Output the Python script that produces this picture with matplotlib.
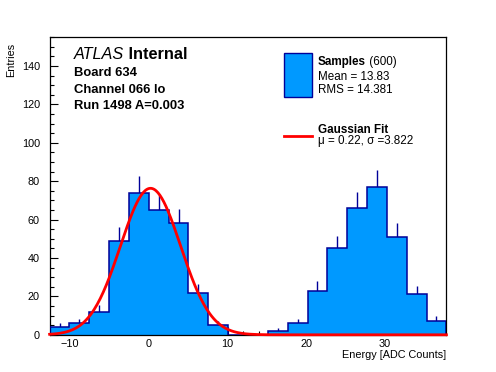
import matplotlib
matplotlib.use("Agg")
import matplotlib.pyplot as plt
import numpy as np
from matplotlib.patches import Rectangle
from matplotlib.lines import Line2D

# histogram (20 bins)
x_min, x_max = -12.6, 37.8
counts = [4, 6, 12, 49, 74, 65, 58, 22, 5, 0, 0, 2, 6, 23, 45, 66, 77, 51, 21, 7]

# gaussian fit
fit_mu = 0.22
fit_sigma = 3.822
fit_amp = 76.3

# stats box
n_samples = 600
mean_val = 13.83
rms_val = 14.381

info_lines = ["Board 634", "Channel 066 lo", "Run 1498 A=0.003"]

fill_col = "#0099ff"
line_col = "#000099"
font = "Liberation Sans"

W, H = 496, 372
plt.rcParams['font.family'] = [font, 'DejaVu Sans']

fig = plt.figure(figsize=(W / 100, H / 100), dpi=100)
ax = fig.add_axes([0.1, 0.1, 0.8, 0.8])


def fx(px):
    return px / W


def fy(py):
    return 1 - py / H


counts = np.array(counts, dtype=float)
edges = np.linspace(x_min, x_max, len(counts) + 1)
centers = 0.5 * (edges[:-1] + edges[1:])

# error bars sit behind the filled histogram, so only the upper half shows
nz = counts > 0
ax.vlines(centers[nz], counts[nz] - np.sqrt(counts[nz]), counts[nz] + np.sqrt(counts[nz]),
          color=line_col, lw=1, zorder=1)
ax.stairs(counts, edges, fill=True, color=fill_col, zorder=2)
ax.stairs(counts, edges, color=line_col, lw=1.1, zorder=3)

xs = np.linspace(x_min, x_max, 400)
ax.plot(xs, fit_amp * np.exp(-0.5 * ((xs - fit_mu) / fit_sigma) ** 2),
        color="red", lw=2, zorder=4, clip_on=False)

ax.set_xlim(x_min, x_max)
ax.set_ylim(0, 155)
ax.set_xticks([-10, 0, 10, 20, 30])
ax.set_xticks(np.arange(-12, 38, 2), minor=True)
ax.set_yticks(np.arange(0, 141, 20))
ax.set_yticks(np.arange(0, 156, 5), minor=True)
ax.tick_params(which='both', direction='in', top=False, right=False, labelsize=7.8)
ax.tick_params(which='major', length=5.8, width=0.8)
ax.tick_params(which='minor', length=2.9, width=0.8)
ax.tick_params(axis='y', pad=7)
ax.tick_params(axis='x', pad=3)
for s in ax.spines.values():
    s.set_linewidth(0.9)

fig.text(fx(446), fy(358), "Energy [ADC Counts]", ha='right', va='baseline', size=7.8)
fig.text(fx(16), fy(43), "Entries", rotation=90, ha='right', va='top', size=7.8)

# ATLAS label
t = fig.text(fx(74), fy(59), "ATLAS", style='italic', size=11.7, va='baseline')
ax.annotate(" Internal", xy=(1, 0), xycoords=t, va='bottom', ha='left',
            size=11.7, weight='bold')
for i, line in enumerate(info_lines):
    fig.text(fx(74), fy(76 + 16.7 * i), line, size=9.4, weight='bold', va='baseline')

# legend, drawn by hand
fig.add_artist(Rectangle((fx(283.5), fy(96.7)), fx(28.2), 43.4 / H,
                         transform=fig.transFigure, facecolor=fill_col,
                         edgecolor=line_col, lw=1))
t = fig.text(fx(317.5), fy(65), "Samples", weight='bold', size=8.4, va='baseline')
ax.annotate(f" ({n_samples})", xy=(1, 0), xycoords=t, va='bottom', ha='left', size=8.4)
fig.text(fx(317.5), fy(80), f"Mean = {mean_val}", size=8.4, va='baseline')
fig.text(fx(317.5), fy(93.3), f"RMS = {rms_val}", size=8.4, va='baseline')

fig.add_artist(Line2D([fx(283.5), fx(312)], [fy(136), fy(136)],
                      transform=fig.transFigure, color='red', lw=2))
fig.text(fx(317.5), fy(132.7), "Gaussian Fit", weight='bold', size=8.4, va='baseline')
fig.text(fx(317.5), fy(144.3), f"\u03bc = {fit_mu}, \u03c3 ={fit_sigma}", size=8.4, va='baseline')

fig.savefig("out.png", dpi=100)
